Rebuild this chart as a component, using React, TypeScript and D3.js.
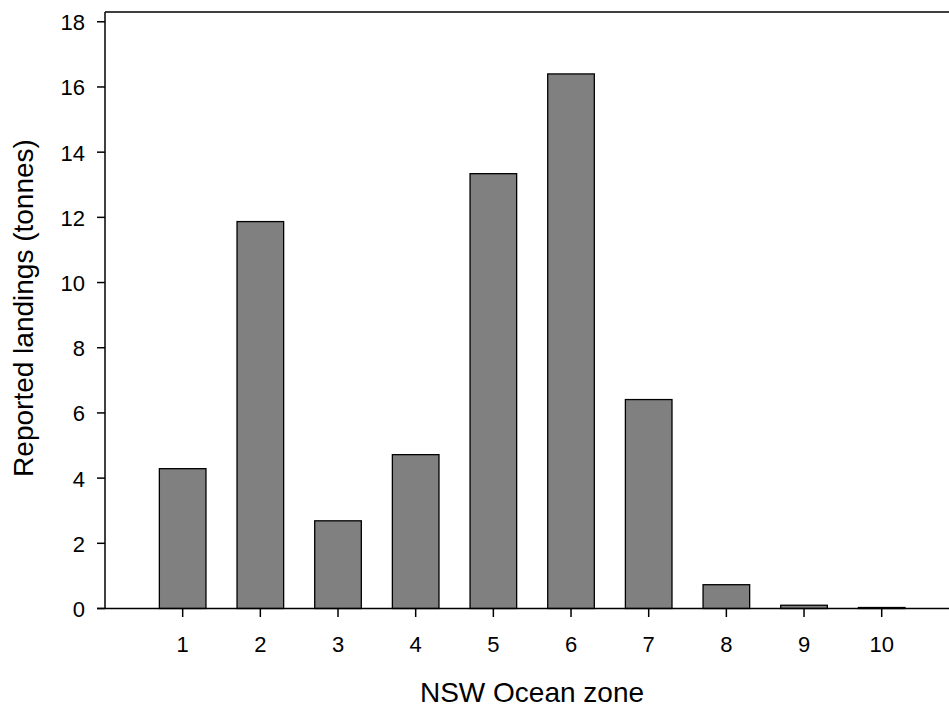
import React from "react";
import * as d3 from "d3";

// Reported landings by NSW ocean zone
const zones: number[] = [1, 2, 3, 4, 5, 6, 7, 8, 9, 10];
const landings: number[] = [4.29, 11.87, 2.69, 4.72, 13.34, 16.4, 6.41, 0.73, 0.1, 0.03];
const yTicks: number[] = [0, 2, 4, 6, 8, 10, 12, 14, 16, 18];

const W = 949;
const H = 708;
const FONT = "'Liberation Sans', Arial, sans-serif";

export default function App() {
  const left = 105;
  const top = 12;
  const bottom = 608.5;
  const unit = 77.67;

  const x = d3.scaleLinear().domain([0, 11]).range([left, left + 11 * unit]);
  const y = d3.scaleLinear().domain([0, 18.3]).range([bottom, top]);
  const barW = 0.6 * unit;

  return (
    <svg
      width={W}
      height={H}
      style={{ position: "absolute", left: 0, top: 0, background: "#fff" }}
      fontFamily={FONT}
    >
      {/* bars */}
      {zones.map((z, i) => (
        <rect
          key={z}
          x={x(z) - barW / 2}
          y={y(landings[i])}
          width={barW}
          height={y(0) - y(landings[i])}
          fill="#808080"
          stroke="#000"
          strokeWidth={1.3}
        />
      ))}

      {/* frame: left axis, top line, bottom axis */}
      <line x1={left} x2={left} y1={top} y2={bottom} stroke="#000" strokeWidth={1.5} />
      <line x1={left} x2={W} y1={top} y2={top} stroke="#000" strokeWidth={1.5} />
      <line x1={left - 8} x2={W} y1={bottom} y2={bottom} stroke="#000" strokeWidth={1.5} />

      {/* y ticks */}
      {yTicks.map((t) => (
        <g key={t}>
          <line x1={left - 8} x2={left} y1={y(t)} y2={y(t)} stroke="#000" strokeWidth={1.5} />
          <text
            x={85}
            y={y(t) + 1}
            textAnchor="end"
            dominantBaseline="central"
            fontSize={22}
            fill="#000"
          >
            {t}
          </text>
        </g>
      ))}

      {/* x ticks */}
      {zones.map((z) => (
        <g key={z}>
          <line x1={x(z)} x2={x(z)} y1={bottom} y2={bottom + 8.5} stroke="#000" strokeWidth={1.5} />
          <text x={x(z)} y={652} textAnchor="middle" fontSize={22} fill="#000">
            {z}
          </text>
        </g>
      ))}

      {/* axis titles */}
      <text x={532} y={702} textAnchor="middle" fontSize={28} fill="#000">
        NSW Ocean zone
      </text>
      <text
        transform={`translate(33, 308) rotate(-90)`}
        textAnchor="middle"
        fontSize={28}
        fill="#000"
      >
        Reported landings (tonnes)
      </text>
    </svg>
  );
}
